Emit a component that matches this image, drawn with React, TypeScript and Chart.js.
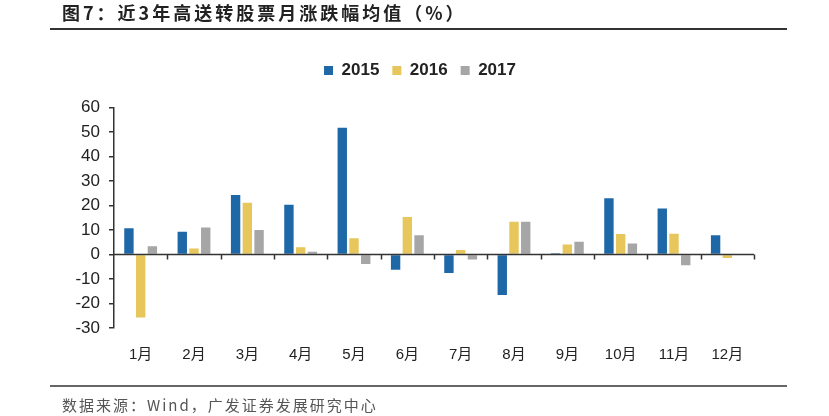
import React, { useEffect, useRef } from 'react';
import { Chart, registerables } from 'chart.js';

Chart.register(...registerables);

const categories = ['1月', '2月', '3月', '4月', '5月', '6月', '7月', '8月', '9月', '10月', '11月', '12月'];
const seriesNames = ['2015', '2016', '2017'];
const values2015 = [10.7, 9.3, 24.3, 20.3, 51.7, -6.2, -7.5, -16.5, 0.5, 23.0, 18.8, 7.9];
const values2016 = [-25.7, 2.5, 21.1, 3.0, 6.6, 15.3, 1.8, 13.4, 4.1, 8.4, 8.5, -1.4];
const values2017 = [3.4, 11.0, 10.0, 1.1, -3.9, 7.9, -2.0, 13.4, 5.2, 4.5, -4.4, null];
const yMin = -30;
const yMax = 60;
const yStep = 10;
const titleText = '图7：近3年高送转股票月涨跌幅均值（%）';
const sourceText = '数据来源：Wind，广发证券发展研究中心';

const colors = ['#1f68a8', '#e7c65b', '#a6a6a6'];
const AXIS = '#333333';

const decorPlugin = {
  id: 'decor',
  beforeLayout(chart: any) {
    const lg = chart.legend;
    if (lg && !lg._patched) {
      const f = lg.fit.bind(lg);
      lg.fit = () => {
        f();
        lg.height = 58.5;
      };
      const d = lg.draw.bind(lg);
      lg.draw = (a: any) => {
        const c = chart.ctx;
        c.save();
        c.translate(6, 0);
        d(a);
        c.restore();
      };
      lg._patched = true;
    }
  },
  afterDatasetsDraw(chart: any) {
    const { ctx, chartArea, scales } = chart;
    const y0 = scales.y.getPixelForValue(0);
    ctx.save();
    ctx.strokeStyle = AXIS;
    ctx.lineWidth = 1.5;
    ctx.beginPath();
    ctx.moveTo(chartArea.left, y0);
    ctx.lineTo(chartArea.right, y0);
    ctx.stroke();
    const n = categories.length;
    const w = (chartArea.right - chartArea.left) / n;
    for (let i = 1; i <= n; i++) {
      const x = Math.round(chartArea.left + i * w) + 0.5;
      ctx.beginPath();
      ctx.moveTo(x, y0);
      ctx.lineTo(x, y0 + 5);
      ctx.stroke();
    }
    ctx.restore();
  },
  afterDraw(chart: any) {
    const { ctx } = chart;
    ctx.save();
    ctx.fillStyle = '#222222';
    ctx.font = 'bold 18px "Noto Sans CJK SC", "Liberation Sans", sans-serif';
    (ctx as any).letterSpacing = '3px';
    ctx.textBaseline = 'middle';
    ctx.textAlign = 'left';
    ctx.fillText(titleText, 62, 13);
    ctx.strokeStyle = '#333333';
    ctx.lineWidth = 2;
    ctx.beginPath();
    ctx.moveTo(50, 29);
    ctx.lineTo(787, 29);
    ctx.stroke();
    ctx.lineWidth = 1.5;
    ctx.beginPath();
    ctx.moveTo(50, 386);
    ctx.lineTo(787, 386);
    ctx.stroke();
    ctx.fillStyle = '#555555';
    ctx.font = '15px "Noto Sans CJK SC", "Liberation Sans", sans-serif';
    (ctx as any).letterSpacing = '2px';
    ctx.fillText(sourceText, 62, 405);
    (ctx as any).letterSpacing = '0px';
    ctx.restore();
  },
};

export default function App() {
  const ref = useRef<HTMLCanvasElement | null>(null);

  useEffect(() => {
    if (!ref.current) return;
    const data = [values2015, values2016, values2017];
    const chart = new Chart(ref.current, {
      type: 'bar',
      data: {
        labels: categories,
        datasets: seriesNames.map((name, i) => ({
          label: name,
          data: data[i],
          backgroundColor: colors[i],
          borderWidth: 0,
          categoryPercentage: 0.66,
          barPercentage: 0.8,
        })),
      },
      options: {
        responsive: false,
        animation: false,
        devicePixelRatio: 1,
        layout: { padding: { top: 49, left: 74, right: 75, bottom: 48 } },
        plugins: {
          legend: {
            position: 'top',
            align: 'center',
            labels: {
              boxWidth: 9,
              boxHeight: 9,
              padding: 13,
              color: '#222222',
              font: { family: '"Liberation Sans", Arial, sans-serif', size: 17, weight: 'bold' },
            },
          },
          tooltip: { enabled: false },
          title: { display: false },
        },
        scales: {
          x: {
            offset: true,
            grid: { display: false, drawTicks: false },
            border: { display: false },
            ticks: {
              padding: 18,
              color: '#222222',
              font: { family: '"Liberation Sans", "Noto Sans CJK SC", sans-serif', size: 15 },
              maxRotation: 0,
              autoSkip: false,
            },
            afterFit(scale: any) {
              scale.height = 40;
            },
          },
          y: {
            min: yMin,
            max: yMax,
            border: { display: true, color: AXIS, width: 1.5 },
            grid: { display: true, drawOnChartArea: false, drawTicks: true, tickLength: 5, color: AXIS, lineWidth: 1.5 },
            ticks: {
              stepSize: yStep,
              padding: 9,
              color: '#222222',
              font: { family: '"Liberation Sans", Arial, sans-serif', size: 17 },
              callback: (v: any) => (Number(v) < 0 ? '-' + String(Math.abs(Number(v))) : String(v)),
            },
            afterFit(scale: any) {
              scale.width = 40;
            },
          },
        },
      },
      plugins: [decorPlugin],
    });
    return () => chart.destroy();
  }, []);

  return (
    <div style={{ position: 'absolute', left: 0, top: 0, width: 829, height: 416, background: '#ffffff' }}>
      <canvas ref={ref} width={829} height={416} style={{ display: 'block' }} />
    </div>
  );
}
